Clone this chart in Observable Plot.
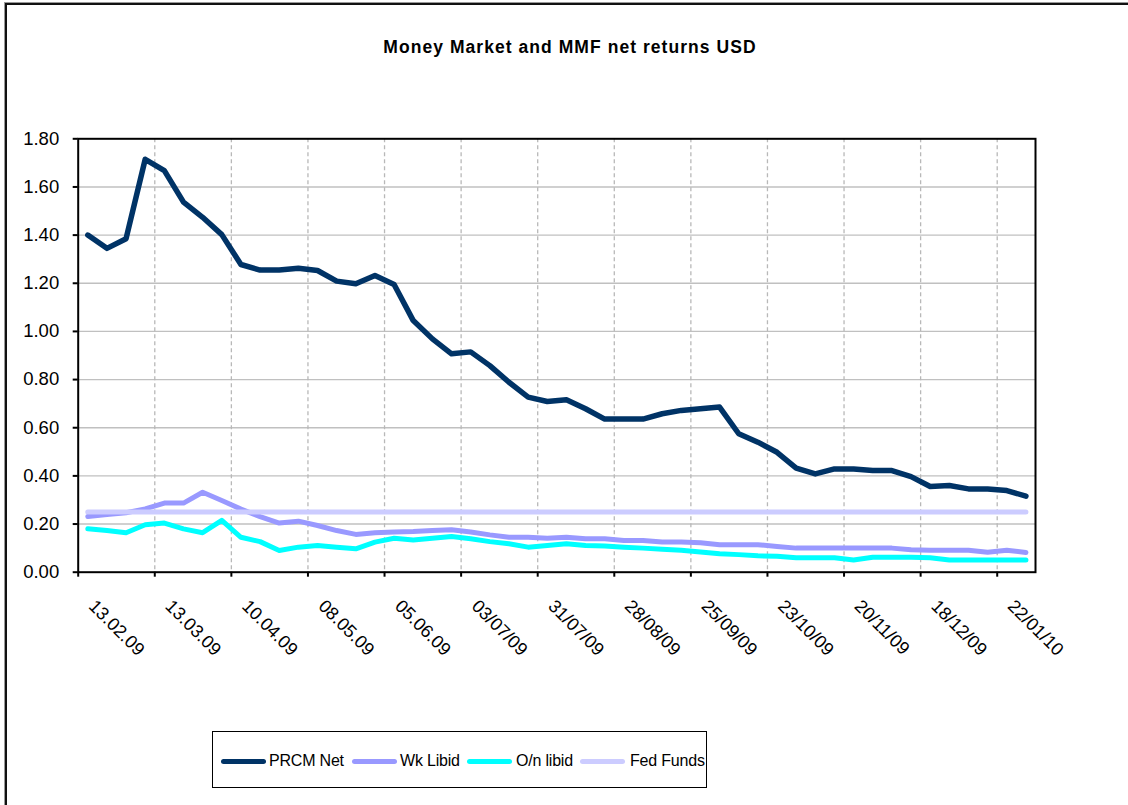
<!DOCTYPE html>
<html>
<head>
<meta charset="utf-8">
<script src="https://cdn.jsdelivr.net/npm/d3@7"></script>
<script src="https://cdn.jsdelivr.net/npm/@observablehq/plot@0.6"></script>
<style>
  html, body { margin: 0; padding: 0; background: #fff; overflow: hidden; }
  body { width: 1128px; height: 805px; position: relative; font-family: "Liberation Sans", Arial, sans-serif; }
  #frame { position: absolute; left: 5px; top: 3px; width: 1300px; height: 1000px; border-left: 2px solid #111; border-top: 2px solid #111; box-shadow: -1px -1px 0 #999; }
  #title { position: absolute; left: 6px; top: 38px; width: 1128px; text-align: center; font-weight: bold; font-size: 17.5px; line-height: 18px; letter-spacing: 1.05px; color: #000; }
  #chart { position: absolute; left: 0; top: 100px; }
  #legend { position: absolute; left: 212px; top: 731px; width: 493px; height: 55px; border: 1.5px solid #000; background: #fff; }
  .sw { position: absolute; height: 5px; border-radius: 3px; top: 27px; }
  .lt { position: absolute; top: 21px; font-size: 16px; line-height: 16px; color: #000; white-space: nowrap; letter-spacing: -0.2px; }
</style>
</head>
<body>
<div id="frame"></div>
<div id="title">Money Market and MMF net returns USD</div>
<div id="chart"></div>
<div id="legend"></div>
<script>
// Weekly observations, 13.02.09 ... 22.01.10 (50 weeks)
const prcmNet = [1.40, 1.345, 1.385, 1.715, 1.668, 1.537, 1.474, 1.402, 1.278, 1.255,
                 1.255, 1.262, 1.253, 1.209, 1.198, 1.232, 1.195, 1.045, 0.969, 0.907,
                 0.915, 0.858, 0.789, 0.727, 0.709, 0.716, 0.679, 0.636, 0.636, 0.636,
                 0.658, 0.672, 0.679, 0.686, 0.575, 0.540, 0.498, 0.432, 0.408, 0.429,
                 0.429, 0.422, 0.422, 0.397, 0.356, 0.360, 0.346, 0.346, 0.339, 0.316];
const wkLibid = [0.231, 0.240, 0.247, 0.263, 0.287, 0.287, 0.332, 0.298, 0.262, 0.231,
                 0.204, 0.212, 0.194, 0.173, 0.157, 0.164, 0.167, 0.169, 0.173, 0.176,
                 0.167, 0.155, 0.145, 0.145, 0.141, 0.145, 0.139, 0.139, 0.132, 0.132,
                 0.125, 0.125, 0.122, 0.114, 0.114, 0.114, 0.107, 0.100, 0.100, 0.100,
                 0.100, 0.100, 0.100, 0.093, 0.091, 0.091, 0.091, 0.083, 0.091, 0.082];
const onLibid = [0.180, 0.173, 0.164, 0.197, 0.204, 0.180, 0.164, 0.215, 0.145, 0.127,
                 0.090, 0.104, 0.111, 0.104, 0.097, 0.125, 0.141, 0.134, 0.141, 0.148,
                 0.139, 0.127, 0.118, 0.104, 0.111, 0.118, 0.111, 0.109, 0.104, 0.100,
                 0.095, 0.091, 0.084, 0.077, 0.073, 0.068, 0.066, 0.060, 0.060, 0.060,
                 0.051, 0.062, 0.062, 0.062, 0.060, 0.051, 0.051, 0.051, 0.051, 0.051];
const fedFunds = [0.25, 0.25, 0.25, 0.25, 0.25, 0.25, 0.25, 0.25, 0.25, 0.25,
                  0.25, 0.25, 0.25, 0.25, 0.25, 0.25, 0.25, 0.25, 0.25, 0.25,
                  0.25, 0.25, 0.25, 0.25, 0.25, 0.25, 0.25, 0.25, 0.25, 0.25,
                  0.25, 0.25, 0.25, 0.25, 0.25, 0.25, 0.25, 0.25, 0.25, 0.25,
                  0.25, 0.25, 0.25, 0.25, 0.25, 0.25, 0.25, 0.25, 0.25, 0.25];
const seriesNames = ["PRCM Net", "Wk Libid", "O/n libid", "Fed Funds"];
const seriesColors = ["#003366", "#9999FF", "#00FFFF", "#CCCCFF"];
const tickLabels = ["13.02.09", "13.03.09", "10.04.09", "08.05.09", "05.06.09", "03/07/09",
                    "31/07/09", "28/08/09", "25/09/09", "23/10/09", "20/11/09", "18/12/09", "22/01/10"];
const tickWeeks = [0, 4, 8, 12, 16, 20, 24, 28, 32, 36, 40, 44, 48];
const yTicks = [0, 0.2, 0.4, 0.6, 0.8, 1.0, 1.2, 1.4, 1.6, 1.8];

const allSeries = [prcmNet, wkLibid, onLibid, fedFunds];
const rows = allSeries.map(vals => vals.map((v, i) => ({i, v})));
const nWeeks = prcmNet.length;
const boundaries = tickWeeks.map(w => w - 0.5);          // category boundaries every 4 weeks
const gridX = boundaries.slice(1);

const chart = Plot.plot({
  width: 1128,
  height: 560,
  marginTop: 38.3,
  marginBottom: 88.3,
  marginLeft: 77.7,
  marginRight: 93,
  style: {fontFamily: '"Liberation Sans", Arial, sans-serif', fontSize: "18.5px", color: "#000", background: "transparent", overflow: "visible"},
  x: {type: "linear", domain: [-0.5, nWeeks - 0.5]},
  y: {domain: [0, 1.8]},
  marks: [
    Plot.ruleY(yTicks.slice(1, -1), {stroke: "#c0c0c0", strokeWidth: 1.4}),
    Plot.ruleX(gridX, {stroke: "#b8b8b8", strokeWidth: 1.3, strokeDasharray: "4,3"}),
    Plot.axisY({ticks: yTicks, tickFormat: d => d.toFixed(2), tickSize: 5, tickPadding: 14, label: null, stroke: "#000", strokeWidth: 2, fontSize: 18.5}),
    Plot.axisX({ticks: boundaries, tickFormat: () => "", tickSize: 5, label: null, stroke: "#000", strokeWidth: 2}),
    Plot.frame({stroke: "#000", strokeWidth: 2}),
    ...rows.map((r, k) => Plot.lineY(r, {
      x: "i", y: "v", stroke: seriesColors[k],
      strokeWidth: k === 0 ? 5.5 : 5, strokeLinejoin: "round", strokeLinecap: "round"
    })),
    Plot.text(tickWeeks, {
      x: d => d, text: (d, i) => tickLabels[i],
      frameAnchor: "bottom", dy: 35, rotate: 45,
      textAnchor: "start", lineAnchor: "bottom", fontSize: 18, fill: "#000"
    })
  ]
});
document.getElementById("chart").appendChild(chart);

// Legend
const legend = document.getElementById("legend");
const swX = [8, 139, 254, 367];
const txtX = [56, 187, 303, 417];
seriesNames.forEach((name, k) => {
  const sw = document.createElement("div");
  sw.className = "sw";
  sw.style.left = swX[k] + "px";
  sw.style.width = "45px";
  sw.style.background = seriesColors[k];
  legend.appendChild(sw);
  const t = document.createElement("div");
  t.className = "lt";
  t.style.left = txtX[k] + "px";
  t.textContent = name;
  legend.appendChild(t);
});
</script>
</body>
</html>
